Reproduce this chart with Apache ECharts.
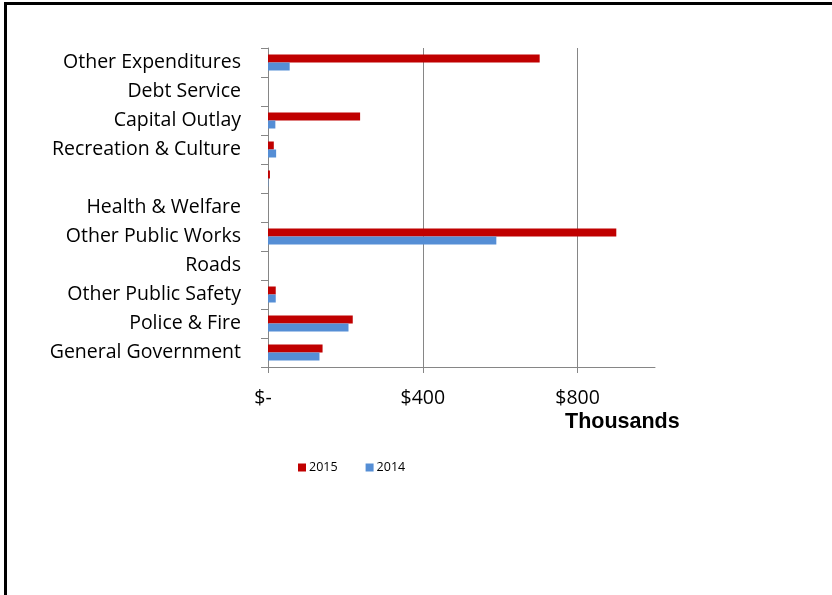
<!DOCTYPE html>
<html>
<head>
<meta charset="utf-8">
<script src="https://cdn.jsdelivr.net/npm/echarts@6/dist/echarts.min.js"></script>
<style>
html,body{margin:0;padding:0;background:#fff;}
#chart{width:832px;height:595px;}
</style>
</head>
<body>
<div id="chart"></div>
<script>
// Categories listed bottom to top (category axis order)
const categories = ['General Government', 'Police & Fire', 'Other Public Safety', 'Roads', 'Other Public Works', 'Health & Welfare', '', 'Recreation & Culture', 'Capital Outlay', 'Debt Service', 'Other Expenditures'];
const values2015 = [141, 219, 20, 0, 900, 0, 5, 15, 238, 0, 702];
const values2014 = [133, 208, 20, 0, 590, 0, 1, 21, 19, 0, 56];
const xTicks = [0, 400, 800];
const seriesNames = ['2015', '2014'];

const chart = echarts.init(document.getElementById('chart'));
const labelFont = '"Open Sans", "Noto Sans", sans-serif';
chart.setOption({
  animation: false,
  backgroundColor: '#fff',
  grid: {left: 268, right: 177, top: 48, bottom: 228},
  legend: {
    data: seriesNames,
    left: 293, top: 456,
    itemWidth: 8, itemHeight: 8, itemGap: 28,
    icon: 'rect',
    itemStyle: {borderWidth: 0},
    textStyle: {fontFamily: labelFont, fontSize: 12.5, color: '#000', padding: [0,0,0,-2]}
  },
  xAxis: {
    type: 'value', min: 0, max: 1000, interval: 400,
    axisLine: {show: true, lineStyle: {color: '#868686'}},
    axisTick: {show: true, length: 6, lineStyle: {color: '#868686'}},
    splitLine: {show: true, showMinLine: false, showMaxLine: false, lineStyle: {color: '#868686'}},
    axisLabel: {
      showMaxLabel: false,
      margin: 21,
      fontFamily: labelFont, fontSize: 19.5, color: '#000',
      rich: {z: {fontFamily: labelFont, fontSize: 19.5, color: '#000', padding: [0, 10, 0, 0]}},
      formatter: v => xTicks.indexOf(v) < 0 ? '' : (v === 0 ? '{z|$-}' : '$' + v)
    }
  },
  yAxis: {
    type: 'category', data: categories,
    axisLine: {show: true, lineStyle: {color: '#868686'}},
    axisTick: {show: true, length: 7, lineStyle: {color: '#868686'}},
    axisLabel: {margin: 27, padding: [2, 0, 0, 0], fontFamily: labelFont, fontSize: 19.5, color: '#000'}
  },
  series: [
    {name: '2015', type: 'bar', data: values2015, barWidth: 8, barGap: '0%',
     itemStyle: {color: '#C00000'}},
    {name: '2014', type: 'bar', data: values2014, barWidth: 8, barGap: '0%',
     itemStyle: {color: '#558ED5'}}
  ],
  graphic: [
    {type: 'rect', left: 4, top: 2, shape: {width: 828, height: 3}, style: {fill: '#000'}},
    {type: 'rect', left: 4, top: 2, shape: {width: 3, height: 593}, style: {fill: '#000'}},
    {type: 'text', left: 565, top: 411, style: {text: 'Thousands', font: 'bold 21.5px "Liberation Sans", Arial, sans-serif', fill: '#000'}}
  ]
});
</script>
</body>
</html>
